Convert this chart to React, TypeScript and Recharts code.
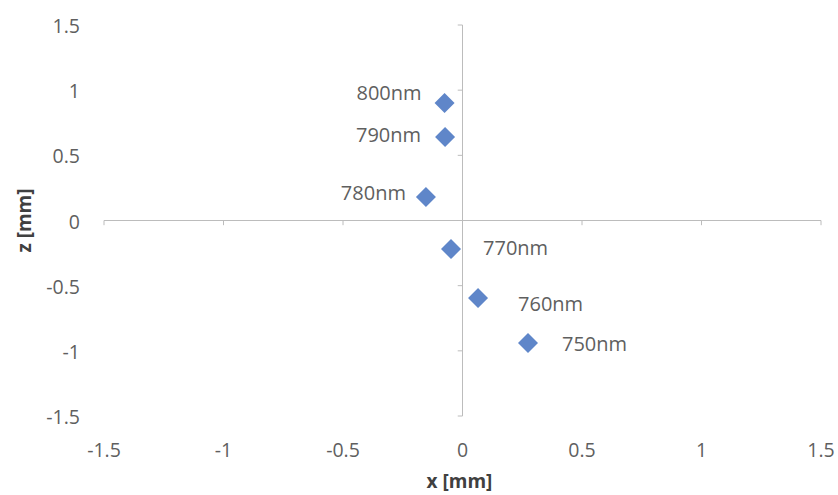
import { ScatterChart, Scatter, XAxis, YAxis, ReferenceLine } from "recharts";

const wavelengths = ["800nm", "790nm", "780nm", "770nm", "760nm", "750nm"];
const xValues = [-0.075, -0.073, -0.153, -0.048, 0.065, 0.274];
const zValues = [0.902, 0.641, 0.18, -0.219, -0.595, -0.94];
const axisTicks = [-1.5, -1, -0.5, 0, 0.5, 1, 1.5];

// label placement beside each point (side, dx, dy in px)
const labelSide = ["left", "left", "left", "right", "right", "right"];
const labelDx = [-23, -24, -20, 32, 40, 34];
const labelDy = [-10, -2, -4, -1, 6, 1];

const points = wavelengths.map((name, i) => ({ name, x: xValues[i], z: zValues[i], idx: i }));

const FONT = "'Open Sans', sans-serif";
const TEXT = "#5f5f5f";
const AXIS = "#bcbcbc";
const MARKER = "#5f86c9";

const Diamond = (props: any) => {
  const { cx, cy, payload } = props;
  const r = 10;
  const i = payload.idx;
  const left = labelSide[i] === "left";
  return (
    <g>
      <polygon
        points={`${cx},${cy - r} ${cx + r},${cy} ${cx},${cy + r} ${cx - r},${cy}`}
        fill={MARKER}
      />
      <text
        x={cx + labelDx[i]}
        y={cy + labelDy[i]}
        dy="0.36em"
        textAnchor={left ? "end" : "start"}
        fill={TEXT}
        fontSize={20}
        fontFamily={FONT}
      >
        {payload.name}
      </text>
    </g>
  );
};

const XTick = ({ x, y, payload }: any) => (
  <text x={x} y={y} dy={41} textAnchor="middle" fill={TEXT} fontSize={19.5} fontFamily={FONT}>
    {payload.value}
  </text>
);

const YTick = ({ x, y, payload }: any) => (
  <text x={x} y={y} dx={-24} dy={8} textAnchor="end" fill={TEXT} fontSize={19.5} fontFamily={FONT}>
    {payload.value}
  </text>
);

const XTitle = ({ viewBox }: any) => (
  <text
    x={viewBox.x + viewBox.width / 2 - 3}
    y={viewBox.y + 72}
    textAnchor="middle"
    fill="#404040"
    fontSize={19}
    fontWeight="bold"
    fontFamily={FONT}
  >
    x [mm]
  </text>
);

const YTitle = ({ viewBox }: any) => {
  const cx = viewBox.x + 24;
  const cy = viewBox.y + viewBox.height / 2;
  return (
    <text
      x={cx}
      y={cy}
      dy="0.36em"
      transform={`rotate(-90 ${cx} ${cy})`}
      textAnchor="middle"
      fill="#404040"
      fontSize={19}
      fontWeight="bold"
      fontFamily={FONT}
    >
      z [mm]
    </text>
  );
};

export default function App() {
  return (
    <div style={{ width: 838, height: 495, background: "#fff" }}>
      <style>{`body{margin:0}`}</style>
      <ScatterChart width={838} height={495} margin={{ top: 25, right: 17, left: 0, bottom: 0 }}>
        <XAxis
          type="number"
          dataKey="x"
          domain={[-1.5, 1.5]}
          ticks={axisTicks}
          axisLine={false}
          tickLine={false}
          tickSize={0}
          tickMargin={0}
          height={79}
          tick={<XTick />}
          label={{ content: <XTitle /> }}
          interval={0}
        />
        <YAxis
          type="number"
          dataKey="z"
          domain={[-1.5, 1.5]}
          ticks={axisTicks}
          axisLine={false}
          tickLine={false}
          tickSize={0}
          tickMargin={0}
          width={104}
          tick={<YTick />}
          label={{ content: <YTitle /> }}
          interval={0}
        />
        <ReferenceLine y={0} stroke={AXIS} strokeWidth={1} />
        <ReferenceLine x={0} stroke={AXIS} strokeWidth={1} />
        {axisTicks.map((t) => (
          <ReferenceLine
            key={`xt${t}`}
            segment={[
              { x: t, y: 0 },
              { x: t, y: -0.036 },
            ]}
            stroke={AXIS}
          />
        ))}
        {axisTicks.map((t) => (
          <ReferenceLine
            key={`yt${t}`}
            segment={[
              { x: 0, y: t },
              { x: -0.02, y: t },
            ]}
            stroke={AXIS}
          />
        ))}
        <Scatter data={points} shape={<Diamond />} isAnimationActive={false} />
      </ScatterChart>
    </div>
  );
}
